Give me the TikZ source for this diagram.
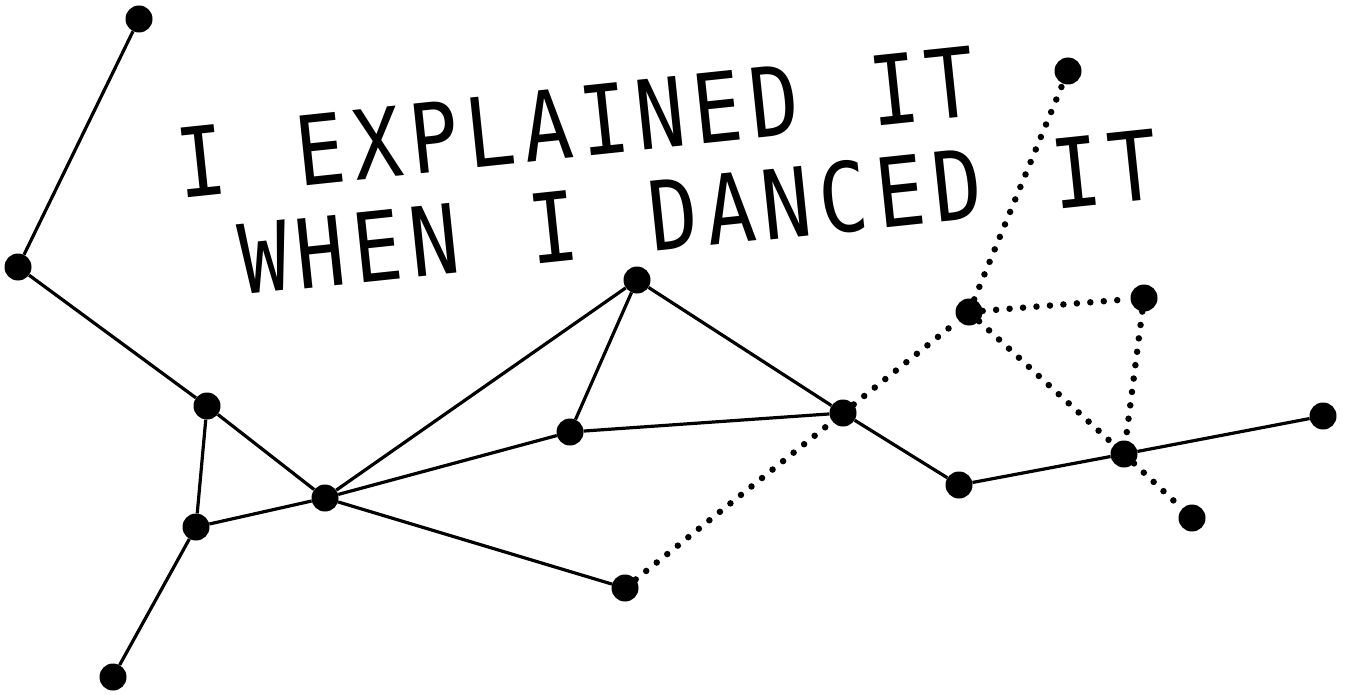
\documentclass[tikz,border=0pt]{standalone}
\usepackage{fontspec}
\newfontfamily\danceface[FakeStretch=0.85,LetterSpace=8.2,WordSpace=1.25]{DejaVu Sans Mono}

\begin{document}
\begin{tikzpicture}[
  x=1pt, y=-1pt,
  dot/.style={circle, fill=black, inner sep=0pt, minimum size=27pt},
  link/.style={line width=3.2pt},
  hop/.style={line width=6.5pt, line cap=round, dash pattern=on 0pt off 13.5pt},
  words/.style={font=\danceface\fontsize{96}{96}\selectfont, inner sep=0pt, anchor=base west, rotate=6}
]
\useasboundingbox (0,0) rectangle (1351,695);

% Title
\node[words] (line1) at (180,199) {I EXPLAINED IT};
\node[words] (line2) at (243,295) {WHEN I DANCED IT};

% Left branch
\node[dot] (tip) at (139,19) {};
\node[dot] (elbow) at (18,267) {};
\node[dot] (knee) at (207,406) {};
\node[dot] (heel) at (196,527) {};
\node[dot] (toe) at (113,677) {};
\node[dot] (hub) at (325,498) {};

% Middle
\node[dot] (apex) at (637,280) {};
\node[dot] (mid) at (570,432) {};
\node[dot] (cross) at (843,413) {};
\node[dot] (low) at (625,588) {};

% Right branch
\node[dot] (dip) at (959,485) {};
\node[dot] (knot) at (1124,454) {};
\node[dot] (reach) at (1323,416) {};
\node[dot] (fan) at (969,312) {};
\node[dot] (corner) at (1144,298) {};
\node[dot] (sky) at (1068,71) {};
\node[dot] (drop) at (1192,518) {};

% Solid links
\draw[link] (tip) -- (elbow);
\draw[link] (elbow) -- (knee);
\draw[link] (knee) -- (heel);
\draw[link] (heel) -- (toe);
\draw[link] (knee) -- (hub);
\draw[link] (heel) -- (hub);
\draw[link] (hub) -- (apex);
\draw[link] (hub) -- (mid);
\draw[link] (hub) -- (low);
\draw[link] (apex) -- (mid);
\draw[link] (apex) -- (cross);
\draw[link] (mid) -- (cross);
\draw[link] (cross) -- (dip);
\draw[link] (dip) -- (knot);
\draw[link] (knot) -- (reach);

% Dotted links
\draw[hop] (low) -- (cross);
\draw[hop] (cross) -- (fan);
\draw[hop] (fan) -- (sky);
\draw[hop] (fan) -- (corner);
\draw[hop] (corner) -- (knot);
\draw[hop] (fan) -- (knot);
\draw[hop] (knot) -- (drop);

\end{tikzpicture}
\end{document}
